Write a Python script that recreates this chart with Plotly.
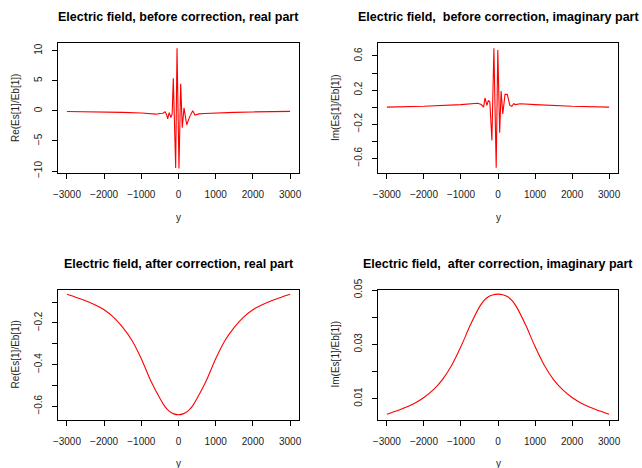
import plotly.graph_objects as go

# ---------- data ----------
# before correction, real part
y_re_before = [-3000, -2500, -2000, -1500, -1000, -800, -700, -600, -500, -420, -363, -320,
               -291, -250, -205, -170, -140, -76, -40, 13, 59, 102, 148, 220, 300, 382, 444,
               550, 700, 1000, 1500, 2000, 2500, 3000]
re_before = [-0.10, -0.13, -0.18, -0.25, -0.35, -0.50, -0.60, -0.55, -0.45, -0.40, -0.15, -0.60,
             -1.35, -0.30, -1.10, -0.50, 5.4, -9.5, 10.4, -9.6, 4.5, -2.8, 0.5, -2.3, -1.0, 0.0, -0.7,
             -0.5, -0.45, -0.35, -0.25, -0.18, -0.13, -0.08]

# before correction, imaginary part
y_im_before = [-3000, -2000, -1000, -700, -550, -450, -390, -350, -300, -260, -220, -165, -111,
               -49, -5, 45, 84, 129, 190, 250, 320, 372, 425, 470, 600, 1000, 2000, 3000]
im_before = [0.0, 0.01, 0.03, 0.04, 0.045, 0.03, 0.0, 0.11, 0.02, 0.08, 0.06, -0.39, 0.69,
             -0.71, 0.67, -0.30, 0.19, -0.08, 0.15, 0.15, 0.02, 0.01, 0.04, 0.03, 0.04, 0.03, 0.01, 0.0]

# after correction
y_after = [-3000, -2750, -2500, -2250, -2000, -1750, -1500, -1250, -1000, -750, -500, -375, -250, -125, 0,
           125, 250, 375, 500, 750, 1000, 1250, 1500, 1750, 2000, 2250, 2500, 2750, 3000]
re_after = [-0.062, -0.077, -0.093, -0.112, -0.136, -0.172, -0.221, -0.284, -0.372, -0.476, -0.562, -0.600,
            -0.624, -0.637, -0.641,
            -0.637, -0.624, -0.600, -0.562, -0.476, -0.372, -0.284, -0.221, -0.172, -0.136, -0.112, -0.093,
            -0.077, -0.062]
im_after = [0.0042, 0.0054, 0.0067, 0.0083, 0.0104, 0.0132, 0.0170, 0.0223, 0.0292, 0.0370, 0.0438, 0.0462,
            0.0476, 0.0483, 0.0485,
            0.0483, 0.0476, 0.0462, 0.0438, 0.0370, 0.0292, 0.0223, 0.0170, 0.0132, 0.0104, 0.0083, 0.0067,
            0.0054, 0.0042]

titles = ["Electric field, before correction, real part",
          "Electric field,  before correction, imaginary part",
          "Electric field, after correction, real part",
          "Electric field,  after correction, imaginary part"]
ylabels = ["Re(Es[1]/Eb[1])", "Im(Es[1]/Eb[1])", "Re(Es[1]/Eb[1])", "Im(Es[1]/Eb[1])"]
xlabel = "y"

x_ticks = [-3000, -2000, -1000, 0, 1000, 2000, 3000]
y_ticks = [
    ([-10, -5, 0, 5, 10], ["−10", "−5", "0", "5", "10"]),
    ([-0.6, -0.4, -0.2, 0, 0.2, 0.4, 0.6], ["−0.6", "", "−0.2", "", "0.2", "", "0.6"]),
    ([-0.6, -0.5, -0.4, -0.3, -0.2, -0.1], ["−0.6", "", "−0.4", "", "−0.2", ""]),
    ([0.01, 0.02, 0.03, 0.04, 0.05], ["0.01", "", "0.03", "", "0.05"]),
]
y_ranges = [[-10.33, 11.28], [-0.772, 0.752], [-0.664, -0.039], [0.0023, 0.0502]]

W, H = 642, 468
FONT = "Liberation Sans, Arial, Helvetica, sans-serif"

# panel boxes in pixels (left, right, top, bottom)
boxes = [(58, 299, 43, 173), (378, 618, 43, 173), (58, 299, 289.5, 419.5), (378, 618, 289.5, 419.5)]

fig = go.Figure()
series = [(y_re_before, re_before), (y_im_before, im_before), (y_after, re_after), (y_after, im_after)]

for i, ((xs, ys), (l, r, t, b)) in enumerate(zip(series, boxes)):
    n = "" if i == 0 else str(i + 1)
    line = dict(color="#ff0000", width=1.1)
    if i >= 2:
        line.update(shape="spline", smoothing=0.9)
    fig.add_trace(go.Scatter(x=xs, y=ys, mode="lines", line=line,
                             xaxis="x" + n, yaxis="y" + n, showlegend=False, hoverinfo="skip"))
    common = dict(showline=True, mirror=True, linecolor="black", linewidth=1,
                  ticks="outside", ticklen=5, tickwidth=1, tickcolor="black",
                  showgrid=False, zeroline=False, automargin=False,
                  tickfont=dict(family=FONT, size=10, color="#222"))
    fig.layout["xaxis" + n] = dict(domain=[l / W, r / W], range=[-3240, 3240],
                                   anchor="y" + n, tickvals=x_ticks,
                                   ticktext=[("−" + str(-v)) if v < 0 else str(v) for v in x_ticks],
                                   ticklabelstandoff=7, **common)
    tv, tt = y_ticks[i]
    fig.layout["yaxis" + n] = dict(domain=[1 - b / H, 1 - t / H], range=y_ranges[i],
                                   anchor="x" + n, tickvals=tv, ticktext=tt,
                                   tickangle=-90, ticklabelstandoff=6, **common)
    cx = (l + r) / 2 / W
    # main title
    fig.add_annotation(text="<b>" + titles[i] + "</b>", x=cx, y=1 - (t - 26) / H,
                       xref="paper", yref="paper", showarrow=False, xanchor="center", yanchor="middle",
                       font=dict(family=FONT, size=12.5, color="black"))
    # x label
    fig.add_annotation(text=xlabel, x=cx, y=1 - (b + 44) / H, xref="paper", yref="paper",
                       showarrow=False, xanchor="center", yanchor="middle",
                       font=dict(family=FONT, size=10, color="#222"))
    # y label
    fig.add_annotation(text=ylabels[i], x=(l - 43) / W, y=1 - (t + b) / 2 / H, xref="paper", yref="paper",
                       showarrow=False, xanchor="center", yanchor="middle", textangle=-90,
                       font=dict(family=FONT, size=10, color="#222"))

fig.update_layout(width=W, height=H, margin=dict(l=0, r=0, t=0, b=0),
                  paper_bgcolor="white", plot_bgcolor="white", template="none")

fig.write_html("out.html")
